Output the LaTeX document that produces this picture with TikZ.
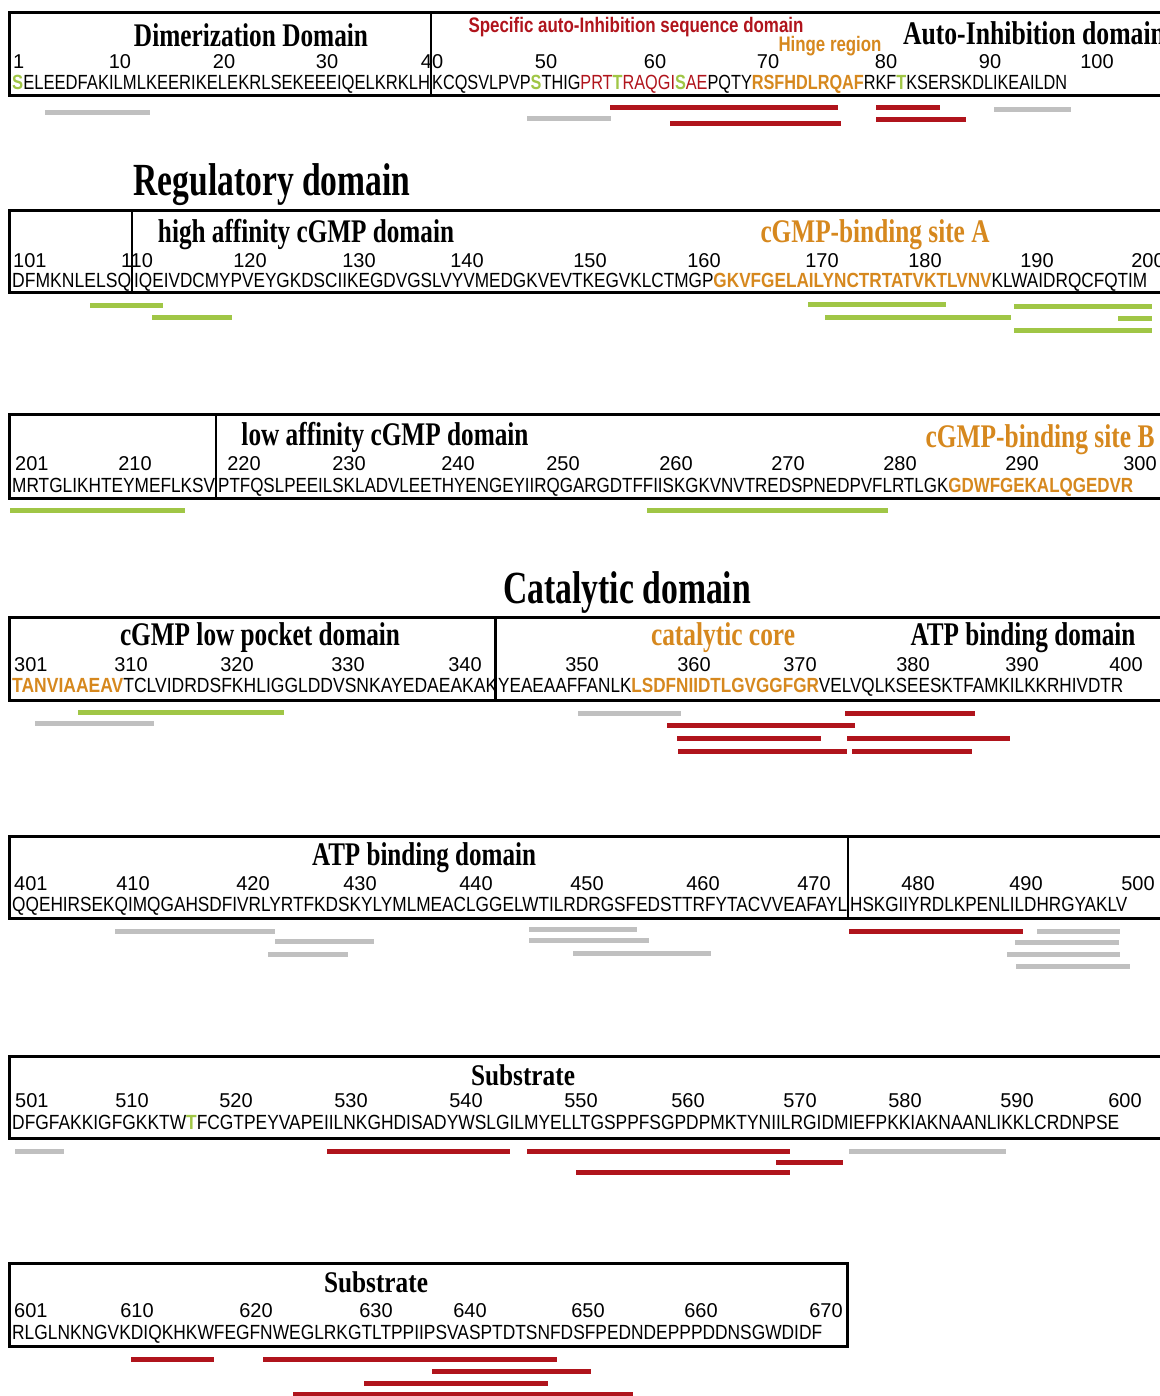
\documentclass[tikz,border=0pt]{standalone}
\usepackage{fontspec}
\setmainfont{Liberation Serif}
\setsansfont{Liberation Sans}
\usepackage{graphicx}
\usepackage{tikz}
\definecolor{cRed}  {RGB}{176,20,28}
\definecolor{cOrng} {RGB}{214,136,30}
\definecolor{cGrn}  {RGB}{160,198,70}
\definecolor{cGray} {RGB}{192,192,192}
\newcommand\wfit[2]{\resizebox{#1pt}{\height}{#2}}% stretch text to a width
\newcommand\resO[1]{\textbf{\color{cOrng}#1}}
\newcommand\resG[1]{\textbf{\color{cGrn}#1}}
\newcommand\resR[1]{\textcolor{cRed}{#1}}
\tikzset{
  frame/.style={draw,line width=3pt},
  split/.style={draw,line width=1.4pt},
  bar/.style={line width=5pt},
  redbar/.style={bar,cRed},
  grnbar/.style={bar,cGrn},
  graybar/.style={bar,cGray},
  num/.style={inner sep=0pt,anchor=base,font=\sffamily\fontsize{20}{20}\selectfont},
  numL/.style={num,anchor=base west},
  seq/.style={inner sep=0pt,anchor=base west,font=\sffamily\fontsize{20.5}{20}\selectfont},
  ttl/.style={inner sep=0pt,anchor=base,font=\bfseries\fontsize{33}{33}\selectfont},
  bigttl/.style={ttl,font=\bfseries\fontsize{46}{46}\selectfont},
  subttl/.style={ttl,font=\bfseries\fontsize{30}{30}\selectfont},
  note/.style={inner sep=0pt,anchor=base,font=\sffamily\bfseries\fontsize{21}{21}\selectfont},
}
\begin{document}
\begin{tikzpicture}[x=1pt,y=-1pt]
  \useasboundingbox (0,0) rectangle (1159,1396);
  % ---- residues 1-100
  \draw[frame] (9,13) rectangle (1165,96);
  \draw[split] (431,13) -- (431,96);
  \node[ttl] (dimer) at (251,47) {\wfit{234}{Dimerization Domain}};
  \node[note,cRed] (specAI) at (636,33) {\wfit{335}{Specific auto-Inhibition sequence domain}};
  \node[note,cOrng] (hinge) at (830,52) {\wfit{103}{Hinge region}};
  \node[ttl] (autoI) at (1034,45) {\wfit{262}{Auto-Inhibition domain}};
  \node[numL] (n1) at (13,69) {1};
  \foreach \v/\x in {10/120,20/224,30/327,40/432,50/546,60/655,70/768,80/886,90/990,100/1097}
    \node[num] (n\v) at (\x,69) {\v};
  \node[seq] (s1a) at (12,90) {\wfit{418}{\resG{S}ELEEDFAKILMLKEERIKELEKRLSEKEEEIQELKRKLH}};
  \node[seq] (s1b) at (432,90) {\wfit{635}{KCQSVLPVP\resG{S}THIG\resR{PRT}\resG{T}\resR{RAQGI}\resG{S}\resR{AE}PQTY\resO{RSFHDLRQAF}RKF\resG{T}KSERSKDLIKEAILDN}};
  \draw[graybar] (45,113) -- (150,113);  \draw[graybar] (527,119) -- (611,119);
  \draw[redbar] (610,108) -- (838,108);  \draw[redbar] (670,124) -- (841,124);
  \draw[redbar] (876,108) -- (940,108);  \draw[redbar] (876,120) -- (966,120);
  \draw[graybar] (994,110) -- (1071,110);
  % ---- residues 101-200
  \node[bigttl] (regul) at (272,196) {\wfit{277}{Regulatory domain}};
  \draw[frame] (9,211) rectangle (1165,293);
  \draw[split] (132,211) -- (132,293);
  \node[ttl] (highaff) at (306,243) {\wfit{296}{high affinity cGMP domain}};
  \node[ttl,cOrng] (siteA) at (875,243) {\wfit{229}{cGMP-binding site A}};
  \node[numL] (n101) at (13,268) {101};
  \foreach \v/\x in {110/137,120/250,130/359,140/467,150/590,160/704,170/822,180/925,190/1037,200/1148}
    \node[num] (n\v) at (\x,268) {\v};
  \node[seq] (s2a) at (12,288) {\wfit{119}{DFMKNLELSQ}};
  \node[seq] (s2b) at (134,288) {\wfit{1013}{IQEIVDCMYPVEYGKDSCIIKEGDVGSLVYVMEDGKVEVTKEGVKLCTMGP\resO{GKVFGELAILYNCTRTATVKTLVNV}KLWAIDRQCFQTIM}};
  \draw[grnbar] (90,306) -- (163,306);   \draw[grnbar] (152,317) -- (232,317);
  \draw[grnbar] (808,305) -- (946,305);  \draw[grnbar] (825,317) -- (1011,317);
  \draw[grnbar] (1014,307) -- (1152,307); \draw[grnbar] (1118,318) -- (1152,318);
  \draw[grnbar] (1014,330) -- (1152,330);
  % ---- residues 201-300
  \draw[frame] (9,414) rectangle (1165,498);
  \draw[split] (216,414) -- (216,498);
  \node[ttl] (lowaff) at (385,445) {\wfit{287}{low affinity cGMP domain}};
  \node[ttl,cOrng] (siteB) at (1040,447) {\wfit{229}{cGMP-binding site B}};
  \node[numL] (n201) at (15,470) {201};
  \foreach \v/\x in {210/135,220/244,230/349,240/458,250/563,260/676,270/788,280/900,290/1022,300/1140}
    \node[num] (n\v) at (\x,470) {\v};
  \node[seq] (s3a) at (12,492) {\wfit{203}{MRTGLIKHTEYMEFLKSV}};
  \node[seq] (s3b) at (218,492) {\wfit{915}{PTFQSLPEEILSKLADVLEETHYENGEYIIRQGARGDTFFIISKGKVNVTREDSPNEDPVFLRTLGK\resO{GDWFGEKALQGEDVR}}};
  \draw[grnbar] (10,510) -- (185,510);   \draw[grnbar] (647,510) -- (888,510);
  % ---- residues 301-400
  \node[bigttl] (catal) at (627,603) {\wfit{248}{Catalytic domain}};
  \draw[frame] (9,617) rectangle (1165,700);
  \draw[frame] (495,617) -- (495,700);
  \node[ttl] (pocket) at (260,645) {\wfit{280}{cGMP low pocket domain}};
  \node[ttl,cOrng] (core) at (723,645) {\wfit{144}{catalytic core}};
  \node[ttl] (atpA) at (1023,645) {\wfit{225}{ATP binding domain}};
  \node[numL] (n301) at (14,671) {301};
  \foreach \v/\x in {310/131,320/237,330/348,340/465,350/582,360/694,370/800,380/913,390/1022,400/1126}
    \node[num] (n\v) at (\x,671) {\v};
  \node[seq] (s4a) at (12,692) {\wfit{485}{\resO{TANVIAAEAV}TCLVIDRDSFKHLIGGLDDVSNKAYEDAEAKAK}};
  \node[seq] (s4b) at (498,692) {\wfit{625}{YEAEAAFFANLK\resO{LSDFNIIDTLGVGGFGR}VELVQLKSEESKTFAMKILKKRHIVDTR}};
  \draw[grnbar] (78,712) -- (284,712);   \draw[graybar] (35,723) -- (154,723);
  \draw[graybar] (578,713) -- (681,713); \draw[redbar] (845,713) -- (975,713);
  \draw[redbar] (667,725) -- (855,725);
  \draw[redbar] (677,738) -- (821,738);  \draw[redbar] (847,738) -- (1010,738);
  \draw[redbar] (678,751) -- (847,751);  \draw[redbar] (852,751) -- (972,751);
  % ---- residues 401-500
  \draw[frame] (9,836) rectangle (1165,918);
  \draw[split] (848,836) -- (848,918);
  \node[ttl] (atpB) at (424,865) {\wfit{224}{ATP binding domain}};
  \node[numL] (n401) at (14,890) {401};
  \foreach \v/\x in {410/133,420/253,430/360,440/476,450/587,460/703,470/814,480/918,490/1026,500/1138}
    \node[num] (n\v) at (\x,890) {\v};
  \node[seq] (s5a) at (12,911) {\wfit{835}{QQEHIRSEKQIMQGAHSDFIVRLYRTFKDSKYLYMLMEACLGGELWTILRDRGSFEDSTTRFYTACVVEAFAYL}};
  \node[seq] (s5b) at (850,911) {\wfit{277}{HSKGIIYRDLKPENLILDHRGYAKLV}};
  \draw[graybar] (115,931) -- (275,931); \draw[graybar] (275,941) -- (374,941);
  \draw[graybar] (268,954) -- (348,954);
  \draw[graybar] (529,929) -- (637,929); \draw[graybar] (529,940) -- (649,940);
  \draw[graybar] (573,953) -- (711,953);
  \draw[redbar] (849,931) -- (1023,931); \draw[graybar] (1037,931) -- (1120,931);
  \draw[graybar] (1015,942) -- (1119,942); \draw[graybar] (1007,954) -- (1120,954);
  \draw[graybar] (1016,966) -- (1130,966);
  % ---- residues 501-600
  \draw[frame] (9,1056) rectangle (1165,1138);
  \node[subttl] (subA) at (523,1085) {\wfit{104}{Substrate}};
  \node[numL] (n501) at (15,1107) {501};
  \foreach \v/\x in {510/132,520/236,530/351,540/466,550/581,560/688,570/800,580/905,590/1017,600/1125}
    \node[num] (n\v) at (\x,1107) {\v};
  \node[seq] (s6) at (12,1129) {\wfit{1107}{DFGFAKKIGFGKKTW\resG{T}FCGTPEYVAPEIILNKGHDISADYWSLGILMYELLTGSPPFSGPDPMKTYNIILRGIDMIEFPKKIAKNAANLIKKLCRDNPSE}};
  \draw[graybar] (15,1151) -- (64,1151);  \draw[redbar] (327,1151) -- (510,1151);
  \draw[redbar] (527,1151) -- (790,1151); \draw[redbar] (776,1162) -- (843,1162);
  \draw[redbar] (576,1172) -- (790,1172); \draw[graybar] (849,1151) -- (1006,1151);
  % ---- residues 601-670
  \draw[frame] (9,1263) rectangle (847,1346);
  \node[subttl] (subB) at (376,1292) {\wfit{104}{Substrate}};
  \node[numL] (n601) at (14,1317) {601};
  \foreach \v/\x in {610/137,620/256,630/376,640/470,650/588,660/701,670/826}
    \node[num] (n\v) at (\x,1317) {\v};
  \node[seq] (s7) at (12,1339) {\wfit{810}{RLGLNKNGVKDIQKHKWFEGFNWEGLRKGTLTPPIIPSVASPTDTSNFDSFPEDNDEPPPDDNSGWDIDF}};
  \draw[redbar] (131,1359) -- (214,1359); \draw[redbar] (263,1359) -- (557,1359);
  \draw[redbar] (432,1371) -- (591,1371); \draw[redbar] (364,1383) -- (548,1383);
  \draw[redbar] (293,1394) -- (633,1394);
\end{tikzpicture}
\end{document}
